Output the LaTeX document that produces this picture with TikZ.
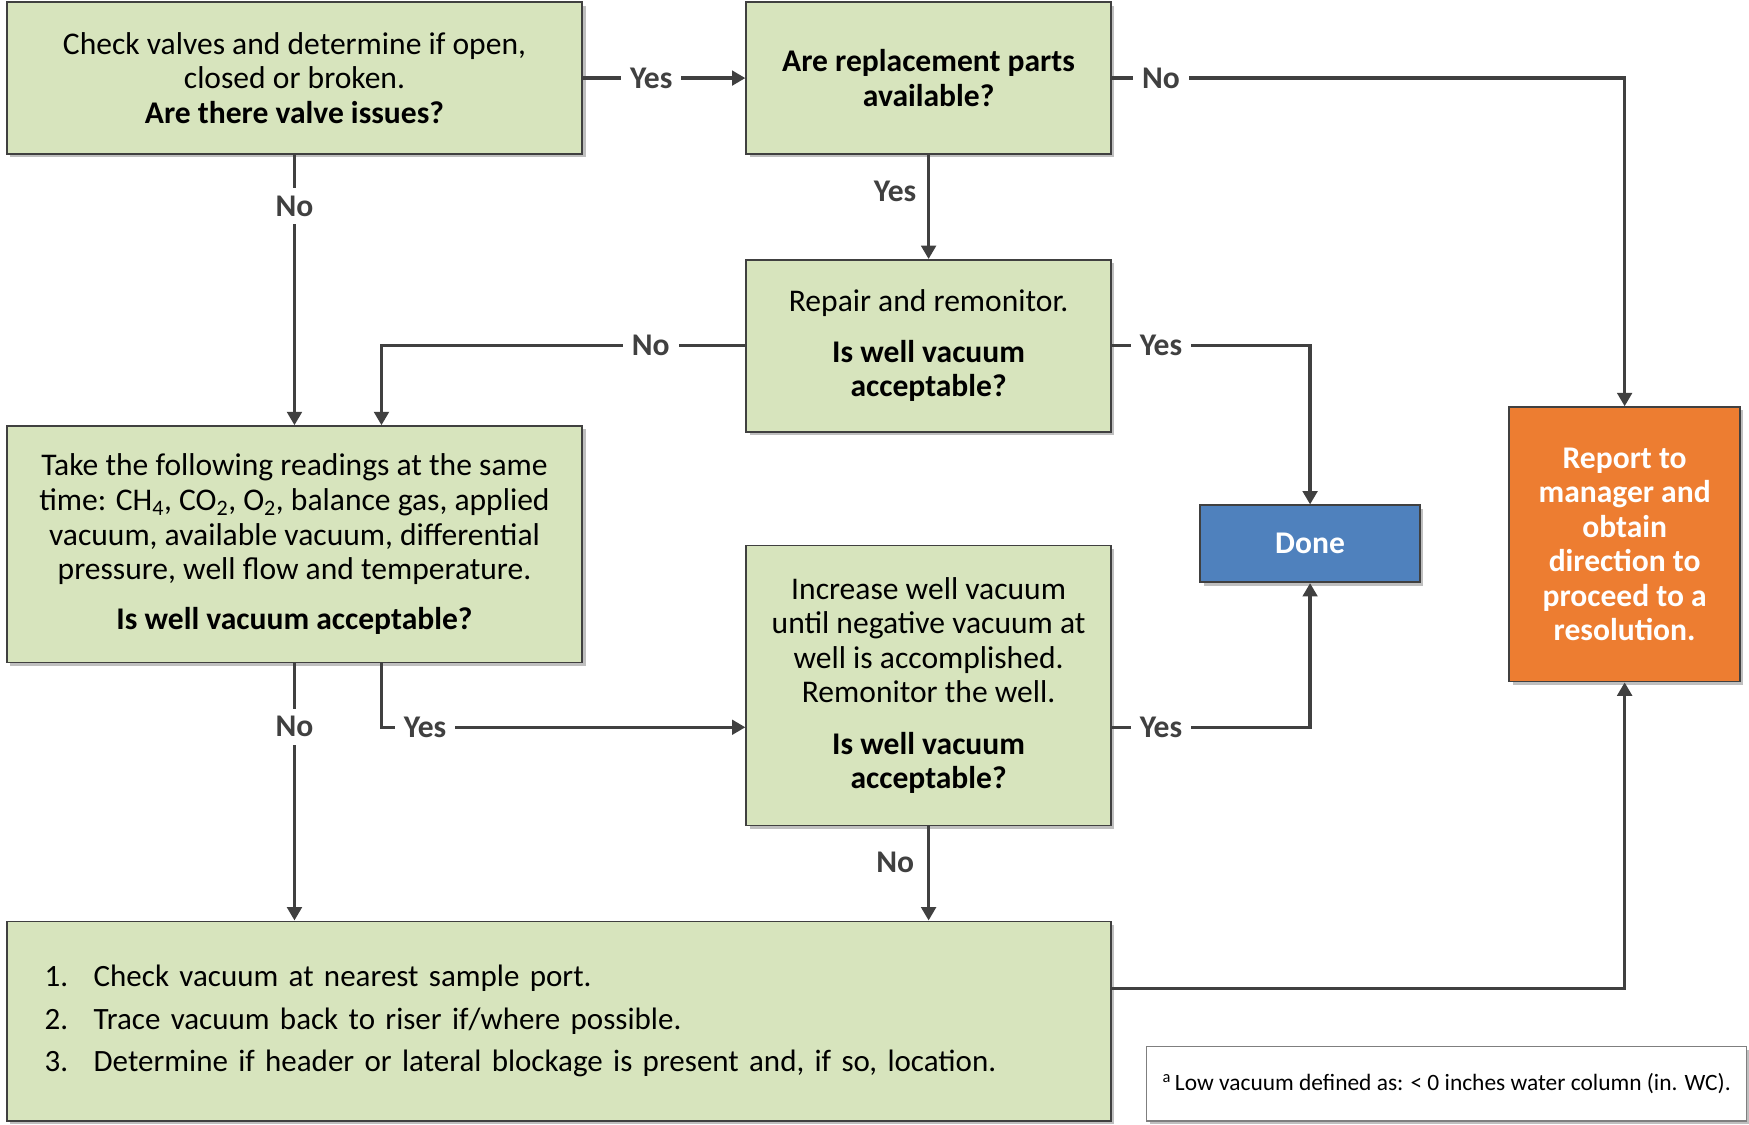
\documentclass[tikz,border=0pt]{standalone}
\usepackage{fontspec}
\setmainfont{Carlito}
\usetikzlibrary{arrows.meta,shadows,calc}
\definecolor{boxgreen}{HTML}{D7E4BD}
\definecolor{doneblue}{HTML}{4F81BD}
\definecolor{reportorange}{HTML}{ED7D31}
\definecolor{linegray}{HTML}{404040}
\definecolor{notegray}{HTML}{7F7F7F}
\begin{document}
\begin{tikzpicture}[x=1pt,y=-1pt,
  shadowed/.style={drop shadow={shadow xshift=3pt, shadow yshift=-3pt, opacity=0.25, fill=black}},
  box/.style={draw=linegray, line width=1.5pt, fill=boxgreen, align=center, inner sep=0pt,
    font=\fontsize{28.3}{31}\selectfont, shadowed},
  conn/.style={draw=linegray, line width=3pt, -{Triangle[width=13pt,length=12pt]}},
  lbl/.style={fill=white, text=linegray, font=\bfseries\fontsize{28.3}{31}\selectfont, inner xsep=8pt, inner ysep=7pt},
  sidelbl/.style={text=linegray, font=\bfseries\fontsize{28.3}{31}\selectfont, inner sep=0pt}
]
\useasboundingbox (0,0) rectangle (1568,1008);

\node[box, minimum width=516pt, minimum height=136pt] (A) at (264,70)
  {Check valves and determine if open,\\ closed or broken.\\ \textbf{Are there valve issues?}};
\node[box, minimum width=327pt, minimum height=136pt] (B) at (832.5,70)
  {\textbf{Are replacement parts}\\ \textbf{available?}};
\node[box, minimum width=327pt, minimum height=154pt] (C) at (832.5,310)
  {Repair and remonitor.\\[14pt] \textbf{Is well vacuum}\\ \textbf{acceptable?}};
\node[box, minimum width=516pt, minimum height=212pt] (D) at (264,488)
  {Take the following readings at the same\\
   time: CH\textsubscript{4}, CO\textsubscript{2}, O\textsubscript{2}, balance gas, applied\\
   vacuum, available vacuum, differential\\
   pressure, well flow and temperature.\\[14pt]
   \textbf{Is well vacuum acceptable?}};
\node[box, minimum width=327pt, minimum height=251pt] (E) at (832.5,614.5)
  {Increase well vacuum\\ until negative vacuum at\\ well is accomplished.\\ Remonitor the well.\\[15pt]
   \textbf{Is well vacuum}\\ \textbf{acceptable?}};
\node[box, fill=doneblue, text=white, font=\bfseries\fontsize{28.3}{31}\selectfont,
  minimum width=197pt, minimum height=69pt] (Done) at (1174.5,487.5) {Done};
\node[box, fill=reportorange, text=white, font=\bfseries\fontsize{28.3}{31}\selectfont,
  minimum width=207pt, minimum height=246pt] (Report) at (1456.5,488)
  {Report to\\ manager and\\ obtain\\ direction to\\ proceed to a\\ resolution.};
\node[box, align=left, font=\fontsize{27.8}{38}\selectfont, text width=922pt, inner xsep=34pt,
  minimum height=179pt] (F) at (501,915.5)
  {\makebox[44pt][l]{1.}Check vacuum at nearest sample port.\\
   \makebox[44pt][l]{2.}Trace vacuum back to riser if/where possible.\\
   \makebox[44pt][l]{3.}Determine if header or lateral blockage is present and, if so, location.};
\node[draw=notegray, line width=1pt, fill=white, shadowed, minimum width=538pt, minimum height=67pt,
  inner sep=0pt, font=\fontsize{21}{25}\selectfont] (Note) at (1297,971.5)
  {\textsuperscript{a}\,Low vacuum defined as: < 0 inches water column (in. WC).};

% connectors
\draw[conn] (A.east) -- node[lbl, pos=0.42] {Yes} (B.west);
\draw[conn] (B.east) -| node[lbl, pos=0.048] {No} (Report.north);
\draw[conn] (B.south) -- node[sidelbl, pos=0.35, xshift=-30pt] {Yes} (C.north);
\draw[conn] (C.west) -| node[lbl, pos=0.13] {No} ([xshift=78pt]D.north);
\draw[conn] (C.east) -| node[lbl, pos=0.124] {Yes} (Done.north);
\draw[conn] (A.south) -- node[lbl, pos=0.19] {No} (A.south |- D.north);
\draw[conn] (D.south) -- node[lbl, pos=0.246] {No} (D.south |- F.north);
\draw[conn] ([xshift=78pt]D.south) |- node[lbl, pos=0.56] {Yes} ([yshift=-37.5pt]E.west);
\draw[conn] ([yshift=-37.5pt]E.east) -| node[lbl, pos=0.124] {Yes} (Done.south);
\draw[conn] (E.south) -- node[sidelbl, pos=0.38, xshift=-30pt] {No} (E.south |- F.north);
\draw[conn] ([yshift=29.5pt]F.east) -| (Report.south);
\end{tikzpicture}
\end{document}
